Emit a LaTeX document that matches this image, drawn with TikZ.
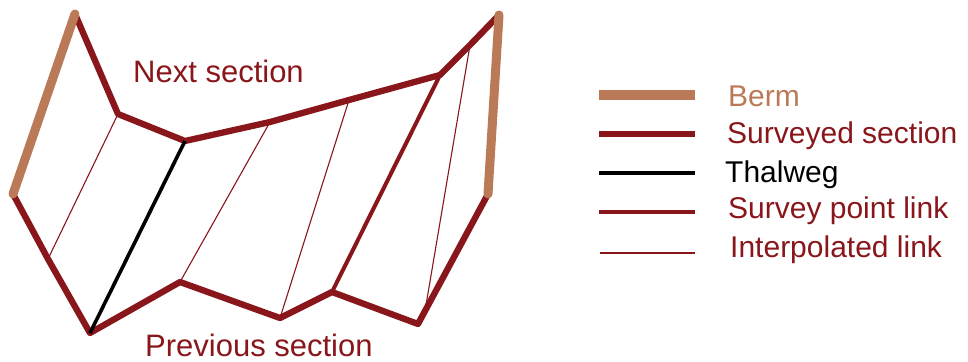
\documentclass[tikz,border=0pt]{standalone}
\usepackage{fontspec}
\setmainfont{Liberation Sans}
\definecolor{sred}{RGB}{136,22,26}
\definecolor{berm}{RGB}{186,122,88}
\begin{document}
\begin{tikzpicture}[x=1pt,y=-1pt,
  surveyed/.style={draw=sred,line width=6.3pt,line join=round},
  bermline/.style={draw=berm,line width=9pt,line cap=round},
  thalweg/.style={draw=black,line width=3.6pt},
  splink/.style={draw=sred,line width=4pt},
  interp/.style={draw=sred,line width=1.1pt},
  lbl/.style={anchor=base west,inner sep=0pt,font=\fontsize{30}{34}\selectfont,text=sred},
  biglbl/.style={lbl,font=\fontsize{31}{34}\selectfont,text depth=0pt}]
\useasboundingbox (0,0) rectangle (968,361);
% next section
\coordinate (N1) at (75,14);
\coordinate (N2) at (118,114);
\coordinate (N3) at (185,141);
\coordinate (N4) at (270,122);
\coordinate (N5) at (349,100);
\coordinate (N6) at (440,75);
\coordinate (N7) at (470,45);
\coordinate (N8) at (499,15);
% previous section
\coordinate (P1) at (13,194);
\coordinate (P2) at (48,259);
\coordinate (P3) at (90,333);
\coordinate (P4) at (180,282);
\coordinate (P5) at (280,318);
\coordinate (P6) at (332,292);
\coordinate (P7) at (418,324);
\coordinate (P8) at (488,194);
\coordinate (P9) at (425,311);
% interpolated links
\draw[interp] (P2) -- (N2);
\draw[interp] (P4) -- (N4);
\draw[interp] (P5) -- (N5);
\draw[interp] (P9) -- (N7);
% survey point link
\draw[splink] (P6) -- (N6);
% surveyed sections
\draw[surveyed] (N1) -- (N2) -- (N3) -- (N4) -- (N5) -- (N6) -- (N7) -- (N8);
\draw[surveyed] (P1) -- (P2) -- (P3) -- (P4) -- (P5) -- (P6) -- (P7) -- (P8);
% thalweg
\draw[thalweg] (P3) -- (N3);
% berms
\draw[bermline] (N1) -- (P1);
\draw[bermline] (N8) -- (P8);
% labels
\node[biglbl] (next) at (133,82) {Next section};
\node[biglbl] (prev) at (145,356) {Previous section};
% legend
\coordinate (L1a) at (599,95); \coordinate (L1b) at (695,95);
\coordinate (L2a) at (599,134); \coordinate (L2b) at (695,134);
\coordinate (L3a) at (599,173); \coordinate (L3b) at (695,173);
\coordinate (L4a) at (599,212); \coordinate (L4b) at (695,212);
\coordinate (L5a) at (600,253); \coordinate (L5b) at (695,253);
\draw[draw=berm,line width=10pt] (L1a) -- (L1b);
\draw[draw=sred,line width=6.5pt] (L2a) -- (L2b);
\draw[thalweg] (L3a) -- (L3b);
\draw[splink] (L4a) -- (L4b);
\draw[interp,line width=1.5pt] (L5a) -- (L5b);
\node[lbl,text=berm] (t1) at (728,106) {Berm};
\node[lbl] (t2) at (727,143) {Surveyed section};
\node[lbl,text=black] (t3) at (725,182) {Thalweg};
\node[lbl] (t4) at (728,218) {Survey point link};
\node[lbl] (t5) at (730,257) {Interpolated link};
\end{tikzpicture}
\end{document}
